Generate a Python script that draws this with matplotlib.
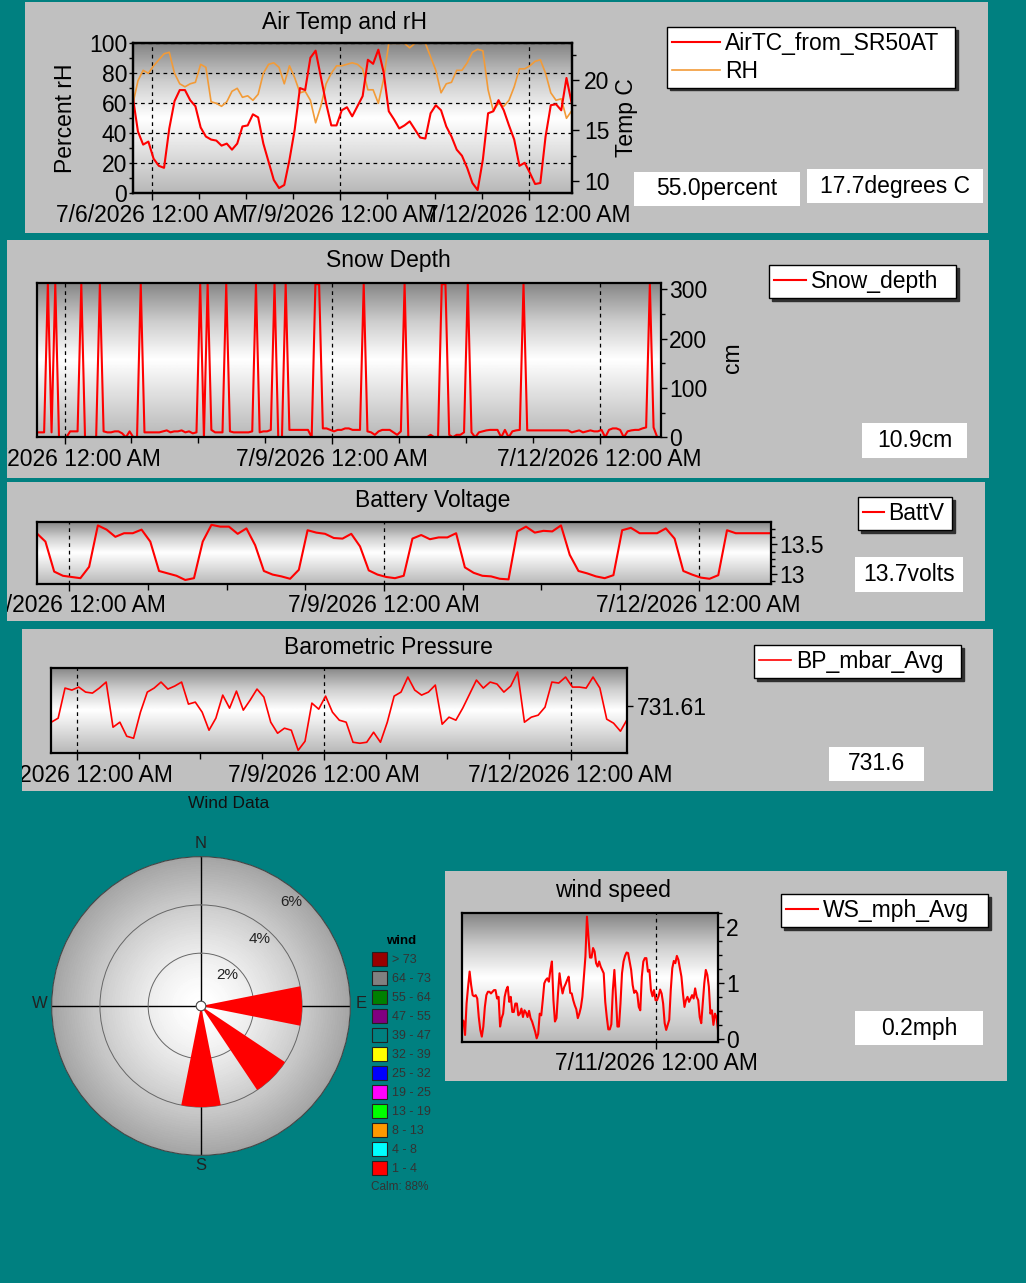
import numpy as np
import matplotlib.pyplot as plt
import matplotlib.dates as mdates
from matplotlib.ticker import AutoMinorLocator, FuncFormatter
from matplotlib.patches import Rectangle, Patch, Circle
from datetime import datetime, timedelta

plt.rcParams['font.family'] = ['Liberation Sans', 'DejaVu Sans']

# ---------------- data ----------------
t_start = datetime(2026, 7, 5, 16, 30)
t_end = datetime(2026, 7, 12, 16, 30)
t2h = [t_start + timedelta(hours=2 * i) for i in range(85)]   # 2 hourly samples
t1h = [t_start + timedelta(hours=i) for i in range(169)]      # hourly samples

rh = [59, 75, 82, 80, 85, 89, 93, 94, 80, 73, 71, 73, 74, 86, 84, 61, 60, 58, 61, 68,
      70, 64, 65, 62, 66, 80, 86, 87, 84, 73, 85, 77, 67, 68, 62, 47, 58, 73, 80, 85,
      85, 86, 87, 86, 83, 69, 69, 60, 76, 100, 100, 100, 100, 97, 100, 100, 100, 91, 82, 67,
      73, 74, 82, 82, 87, 94, 96, 95, 69, 55, 60, 58, 62, 71, 83, 83, 85, 88, 89, 80,
      67, 62, 63, 50, 55]

air_temp = [18.4, 14.9, 13.6, 13.9, 12.2, 11.5, 11.3, 15.2, 17.9, 19.0, 19.0, 18.0, 17.4, 15.3,
            14.4, 14.1, 14.0, 13.5, 13.7, 13.1, 13.7, 15.4, 15.5, 16.6, 16.3, 13.7, 11.9, 10.1,
            9.3, 9.6, 12.1, 15.1, 19.2, 19.0, 22.2, 22.9, 20.3, 17.7, 15.5, 15.5, 17.0, 17.3,
            16.4, 17.4, 18.4, 22.0, 21.6, 23.0, 20.8, 16.9, 16.1, 15.2, 15.5, 15.9, 15.1, 14.3,
            14.2, 16.7, 17.5, 17.0, 15.4, 14.4, 13.1, 12.5, 11.3, 9.8, 9.1, 12.1, 16.7, 16.9,
            18.0, 17.0, 15.5, 14.1, 11.5, 11.8, 10.8, 9.7, 9.8, 14.4, 17.5, 17.6, 17.0, 20.2,
            17.7]

snow_depth = [10, 10, 10, 310, 10, 310, 0, 0, 0, 12, 12, 12, 310, 0, 0, 0, 0, 310,
              12, 10, 10, 12, 12, 8, 0, 12, 0, 0, 310,
              10, 10, 10, 10, 10, 12, 14, 10, 12, 12, 14, 10, 12, 8, 10,
              310, 0, 310, 15, 10, 10, 10, 310, 12, 10, 10, 10, 10, 10, 12, 310,
              10, 12, 12, 15, 310, 0, 0, 310, 15, 15, 15, 15, 15, 15, 0, 310, 310,
              18, 18, 15, 12, 15, 15, 18, 18, 15, 15, 15, 310,
              12, 10, 5, 12, 15, 15, 15, 10, 5, 12, 310,
              0, 0, 0, 0, 0, 0, 5, 0, 0, 310, 310, 5, 0, 5, 5, 10, 310,
              10, 0, 10, 12, 14, 15, 15, 15, 0, 15, 0, 12, 14, 15, 310,
              14, 14, 14, 14, 14, 14, 14, 14, 14, 14, 14, 14, 10, 12, 14, 10, 12, 14, 12, 12, 15,
              0, 15, 18, 18, 15, 0, 12, 14, 15, 15, 18, 20, 310, 20, 0, 0]

batt_v = [13.68, 13.54, 13.04, 12.97, 12.95, 12.93, 13.12, 13.81, 13.74, 13.62, 13.68, 13.68,
          13.74, 13.54, 13.05, 13.01, 12.97, 12.90, 12.93, 13.54, 13.82, 13.79, 13.79, 13.67,
          13.76, 13.48, 13.05, 12.99, 12.96, 12.92, 13.07, 13.73, 13.69, 13.67, 13.60, 13.59,
          13.67, 13.46, 13.06, 12.99, 12.95, 12.93, 12.97, 13.59, 13.65, 13.58, 13.61, 13.61,
          13.68, 13.11, 13.02, 12.97, 12.96, 12.92, 12.91, 13.71, 13.79, 13.69, 13.72, 13.71,
          13.81, 13.32, 13.05, 13.01, 12.96, 12.93, 12.98, 13.73, 13.77, 13.68, 13.68, 13.68,
          13.76, 13.59, 13.05, 12.99, 12.94, 12.92, 12.98, 13.73, 13.68, 13.68, 13.68, 13.68,
          13.68]

bp_mbar = [731.6084, 731.6088, 731.6118, 731.6116, 731.6119, 731.6114, 731.6113, 731.6118,
           731.6124, 731.6079, 731.6084, 731.6070, 731.6068, 731.6094, 731.6114, 731.6118,
           731.6124, 731.6117, 731.6120, 731.6124, 731.6102, 731.6104, 731.6094, 731.6076,
           731.6088, 731.6111, 731.6098, 731.6115, 731.6096, 731.6106, 731.6117, 731.6109,
           731.6084, 731.6073, 731.6078, 731.6076, 731.6056, 731.6065, 731.6103, 731.6097,
           731.6110, 731.6094, 731.6086, 731.6084, 731.6064, 731.6063, 731.6064, 731.6074,
           731.6064, 731.6084, 731.6110, 731.6114, 731.6129, 731.6116, 731.6111, 731.6114,
           731.6121, 731.6082, 731.6089, 731.6086, 731.6098, 731.6112, 731.6126, 731.6118,
           731.6124, 731.6122, 731.6114, 731.6120, 731.6134, 731.6084, 731.6089, 731.6091,
           731.6099, 731.6124, 731.6123, 731.6129, 731.6119, 731.6119, 731.6118, 731.6129,
           731.6118, 731.6087, 731.6083, 731.6075, 731.6087]

ws_mph = [0.35, 0.33, 0.08, 0.64, 0.94, 1.21, 0.97, 0.79, 0.77, 0.79,
          0.73, 0.40, 0.17, 0.05, 0.23, 0.58, 0.79, 0.85, 0.85, 0.82,
          0.85, 0.88, 0.88, 0.73, 0.76, 0.23, 0.38, 0.46, 0.76, 0.88,
          0.94, 0.67, 0.76, 0.49, 0.49, 0.64, 0.64, 0.43, 0.46, 0.55,
          0.40, 0.52, 0.48, 0.40, 0.51, 0.38, 0.32, 0.23, 0.14, 0.02,
          0.10, 0.46, 0.43, 0.70, 1.00, 1.06, 1.09, 1.03, 1.24, 1.39,
          0.70, 0.32, 0.38, 0.82, 1.18, 0.97, 0.82, 0.93, 0.99, 1.06,
          1.12, 0.83, 0.82, 0.70, 0.61, 0.54, 0.38, 0.46, 0.57, 0.76,
          1.12, 1.48, 2.19, 1.83, 1.46, 1.46, 1.63, 1.57, 1.36, 1.30,
          1.39, 1.30, 1.24, 1.18, 0.67, 0.40, 0.18, 0.18, 0.27, 0.88,
          1.24, 0.76, 0.23, 0.23, 0.64, 1.18, 1.39, 1.49, 1.55, 1.54,
          1.39, 1.24, 0.97, 0.83, 0.87, 0.82, 0.58, 0.52, 1.12, 1.39,
          1.45, 1.45, 1.21, 1.24, 0.88, 0.77, 0.88, 0.70, 0.70, 0.77,
          0.89, 0.82, 0.64, 0.29, 0.17, 0.26, 0.35, 0.88, 1.27, 1.40,
          1.36, 1.49, 1.42, 1.27, 1.12, 0.82, 0.58, 0.70, 0.76, 0.67,
          0.73, 0.79, 0.73, 0.91, 0.76, 0.70, 0.40, 0.29, 0.64, 1.00,
          1.24, 1.15, 0.94, 0.46, 0.52, 0.26, 0.46, 0.40, 0.17]

# wind rose: direction (deg) and frequency (%)
wind_dir_deg = [90, 135, 180]
wind_pct = [4, 4, 4]
calm_pct = 88
wind_bins = ['> 73', '64 - 73', '55 - 64', '47 - 55', '39 - 47', '32 - 39',
             '25 - 32', '19 - 25', '13 - 19', '8 - 13', '4 - 8', '1 - 4']
wind_bin_colors = ['#990000', '#808080', '#008000', '#800080', '#008080', '#ffff00',
                   '#0000ff', '#ff00ff', '#00ff00', '#ff9900', '#00ffff', '#ff0000']

# latest readings shown in the boxes
rh_now, temp_now, snow_now, batt_now, bp_now, ws_now = 55.0, 17.7, 10.9, 13.7, 731.6, 0.2

# ---------------- layout helpers (pixel coords of the 1026x1283 page) ----------------
W, H = 1026, 1283
FS = 16.5
TEAL = '#008080'

fig = plt.figure(figsize=(W / 100, H / 100), dpi=100, facecolor=TEAL)


def frac(x0, y0, x1, y1):
    return [x0 / W, 1 - y1 / H, (x1 - x0) / W, (y1 - y0) / H]


def block(x0, y0, x1, y1, color='#c0c0c0', z=-1):
    fig.add_artist(Rectangle((x0 / W, 1 - y1 / H), (x1 - x0) / W, (y1 - y0) / H,
                             transform=fig.transFigure, facecolor=color,
                             edgecolor='none', zorder=z))


def ftext(x, y, s, **kw):
    fig.text(x / W, 1 - y / H, s, ha=kw.pop('ha', 'center'), va=kw.pop('va', 'center'), **kw)


def info_box(x0, y0, x1, y1, s):
    block(x0, y0, x1, y1, color='white', z=3)
    ftext((x0 + x1) / 2, (y0 + y1) / 2, s, fontsize=FS, zorder=4)


def legend(handles, labels, box, hl):
    x0, y0, x1, y1 = box
    fig.legend(handles, labels, loc='upper left',
               bbox_to_anchor=(x0 / W, 1 - y1 / H, (x1 - x0) / W, (y1 - y0) / H),
               bbox_transform=fig.transFigure, mode='expand', borderaxespad=0,
               fontsize=FS, frameon=True, fancybox=False, edgecolor='black', framealpha=1,
               shadow={'facecolor': '#303030', 'edgecolor': '#303030', 'alpha': 1},
               handlelength=hl, handletextpad=0.2, borderpad=0.22, labelspacing=0.2)


def shade(ax):
    g = np.interp(np.linspace(0, 1, 200), [0, 0.25, 0.5, 0.75, 1.0],
                  [0.72, 0.86, 1.0, 0.80, 0.52])
    ax.imshow(g[:, None], cmap='gray', vmin=0, vmax=1, origin='lower', extent=[0, 1, 0, 1],
              transform=ax.transAxes, aspect='auto', interpolation='bilinear', zorder=0)


def date_label(x, pos):
    d = mdates.num2date(x)
    return f"{d.month}/{d.day}/{d.year} {d.strftime('%I:%M %p')}"


def style(ax, days, minor=True, right=True):
    ax.set_xlim(t_start, t_end)
    ax.xaxis.set_major_locator(mdates.DayLocator(bymonthday=days))
    ax.xaxis.set_major_formatter(FuncFormatter(date_label))
    if minor:
        ax.xaxis.set_minor_locator(AutoMinorLocator(4))
    ax.grid(axis='x', which='major', color='black', linestyle=(0, (3, 3)), linewidth=0.9)
    ax.tick_params(axis='x', which='major', length=5, width=1, pad=2.5, labelsize=FS)
    ax.tick_params(axis='x', which='minor', length=4, width=1)
    if right:
        ax.yaxis.tick_right()
        ax.tick_params(axis='y', which='both', left=False, right=True,
                       labelleft=False, labelright=True)
    ax.tick_params(axis='y', which='major', length=4, width=1, pad=2, labelsize=FS)
    ax.tick_params(axis='y', which='minor', length=3, width=1)
    for s in ax.spines.values():
        s.set_linewidth(1.6)


# ---------------- grey panels ----------------
block(25, 2, 988, 233)
block(7, 240, 989, 478)
block(7, 482, 985, 621)
block(22, 629, 993, 791)
block(445, 871, 1007, 1081)

# ---------------- Air temp and rH ----------------
ax1 = fig.add_axes(frac(132.7, 43.3, 571.7, 193.3))
l_rh, = ax1.plot(t2h, rh, color='#f29b38', lw=1.2, zorder=2)
shade(ax1)
ax1.set_ylim(0, 100)
ax1.set_yticks(range(0, 101, 20))
ax1.yaxis.set_minor_locator(AutoMinorLocator(2))
style(ax1, [6, 9, 12], right=False)
ax1.grid(axis='y', which='major', color='black', linestyle=(0, (3, 3)), linewidth=0.9)
ax1.tick_params(axis='y', which='both', length=3, pad=1)
ax2 = ax1.twinx()
l_t, = ax2.plot(t2h, air_temp, color='red', lw=1.5)
ax2.set_ylim(8.78, 23.63)
ax2.set_yticks([10, 15, 20])
ax2.yaxis.set_minor_locator(AutoMinorLocator(2))
ax2.tick_params(axis='y', which='major', length=5, width=1, pad=4, labelsize=FS)
ax2.tick_params(axis='y', which='minor', length=3, width=1)
for s in ax2.spines.values():
    s.set_linewidth(1.6)
ax1.set_xlim(t_start, t_end)

ftext(345, 22, 'Air Temp and rH', fontsize=FS)
ftext(66, 118, 'Percent rH', fontsize=FS, rotation=90)
ftext(627, 118, 'Temp C', fontsize=FS, rotation=90)
legend([l_t, l_rh], ['AirTC_from_SR50AT', 'RH'], (667, 27, 955, 87), 2.1)
info_box(634, 172, 800, 206, f'{rh_now:.1f}percent')
info_box(807, 169, 983, 203, f'{temp_now:.1f}degrees C')

# ---------------- Snow depth ----------------
ax = fig.add_axes(frac(36.7, 282.7, 661, 437.3))
l_s, = ax.plot(t1h, snow_depth, color='red', lw=1.5, zorder=2)
shade(ax)
ax.set_ylim(0, 313)
ax.set_yticks([0, 100, 200, 300])
ax.yaxis.set_minor_locator(AutoMinorLocator(2))
style(ax, [6, 9, 12])
ftext(388, 261, 'Snow Depth', fontsize=FS)
ftext(732, 358, 'cm', fontsize=FS, rotation=90)
legend([l_s], ['Snow_depth'], (769, 265, 956, 299), 1.4)
info_box(862, 423, 967, 458, f'{snow_now:.1f}cm')

# ---------------- Battery voltage ----------------
ax = fig.add_axes(frac(36.7, 521.7, 770.7, 584))
l_b, = ax.plot(t2h, batt_v, color='red', lw=1.5, zorder=2)
shade(ax)
ax.set_ylim(12.833, 13.872)
ax.set_yticks([13, 13.5])
ax.yaxis.set_major_formatter(FuncFormatter(lambda v, p: f'{v:g}'))
ax.yaxis.set_minor_locator(AutoMinorLocator(4))
style(ax, [6, 9, 12])
ftext(433, 500, 'Battery Voltage', fontsize=FS)
legend([l_b], ['BattV'], (858, 497, 952, 531), 0.9)
info_box(855, 557, 963, 592, f'{batt_now:.1f}volts')

# ---------------- Barometric pressure ----------------
ax = fig.add_axes(frac(51.3, 668, 627.3, 753.3))
l_p, = ax.plot(t2h, bp_mbar, color='red', lw=1.2, zorder=2)
shade(ax)
ax.set_ylim(731.6053, 731.6138)
ax.set_yticks([731.61])
ax.yaxis.set_major_formatter(FuncFormatter(lambda v, p: f'{v:.2f}'))
style(ax, [6, 9, 12])
ax.tick_params(axis='y', pad=3)
ftext(388, 647, 'Barometric Pressure', fontsize=FS)
legend([l_p], ['BP_mbar_Avg'], (754, 645, 961, 681), 1.4)
info_box(829, 747, 924, 781, f'{bp_now:.1f}')

# labels running off the left edge are cut at the panel border
block(0, 236, 7, 625, color=TEAL, z=10)
block(0, 625, 22, 795, color=TEAL, z=10)

# ---------------- wind speed ----------------
ax = fig.add_axes(frac(462, 912.7, 718, 1041.7))
l_w, = ax.plot(t1h, ws_mph, color='red', lw=1.5, zorder=2)
shade(ax)
ax.set_ylim(-0.04, 2.26)
ax.set_yticks([0, 1, 2])
ax.yaxis.set_minor_locator(AutoMinorLocator(4))
style(ax, [11], minor=False)
ftext(613, 891, 'wind speed', fontsize=FS)
legend([l_w], ['WS_mph_Avg'], (781, 894, 988, 928), 1.4)
info_box(855, 1011, 983, 1045, f'{ws_now:.1f}mph')

# ---------------- wind rose ----------------
axr = fig.add_axes(frac(51.7, 856.7, 350.3, 1155.3), projection='polar')
axr.set_theta_zero_location('N')
axr.set_theta_direction(-1)
axr.set_ylim(0, 6)
axr.set_rorigin(-0.19)
th = np.linspace(0, 2 * np.pi, 181)
rr = np.linspace(0, 6, 61)
rc = (rr[:-1] + rr[1:]) / 2
cval = 1 - 0.36 * (rc / 6) ** 1.4
axr.pcolormesh(th, rr, np.repeat(cval[:, None], len(th) - 1, axis=1),
               cmap='gray', vmin=0, vmax=1, shading='flat', zorder=0.2)
axr.bar(np.deg2rad(wind_dir_deg), wind_pct, width=np.deg2rad(22.5), bottom=0,
        color='red', edgecolor='none', zorder=2)
axr.set_xticks(np.deg2rad([0, 90, 180, 270]))
axr.set_xticklabels([])
axr.set_yticks([2, 4])
axr.set_yticklabels([])
axr.tick_params(length=0)
axr.xaxis.grid(True, color='black', lw=1.0, linestyle='-')
axr.yaxis.grid(True, color='#666666', lw=0.7, linestyle='-')
axr.set_axisbelow(True)
axr.spines['polar'].set_color('#444444')
axr.spines['polar'].set_linewidth(0.8)
for p in [2, 4, 6]:
    axr.text(np.deg2rad(41), p - 0.5, f'{p}%', ha='center', va='center',
             fontsize=11, color='#222222', zorder=3)
axr.add_artist(Circle((0.5, 0.5), 0.016, transform=axr.transAxes, facecolor='white',
                      edgecolor='#555555', lw=0.8, zorder=5, clip_on=False))

ftext(229, 804, 'Wind Data', fontsize=12.5, color='#111111')
ftext(201, 844, 'N', fontsize=12, color='#222222')
ftext(201, 1166, 'S', fontsize=12, color='#222222')
ftext(40, 1004, 'W', fontsize=12, color='#222222')
ftext(361, 1004, 'E', fontsize=12, color='#222222')

bin_handles = [Patch(facecolor=c, edgecolor='#222222', linewidth=0.8) for c in wind_bin_colors]
leg = fig.legend(bin_handles, wind_bins, loc='upper left',
                 bbox_to_anchor=(371.7 / W, 1 - 935 / H), bbox_transform=fig.transFigure,
                 frameon=False, title='wind', fontsize=9, handlelength=1.2,
                 handleheight=1.3, handletextpad=0.4, labelspacing=0.4, borderpad=0,
                 borderaxespad=0, title_fontproperties={'weight': 'bold', 'size': 9.5})
for t in leg.get_texts():
    t.set_color('#333333')
ftext(400, 1187, f'Calm: {calm_pct}%', fontsize=8.5, color='#333333')

fig.savefig('out.png', dpi=100, facecolor=fig.get_facecolor())
